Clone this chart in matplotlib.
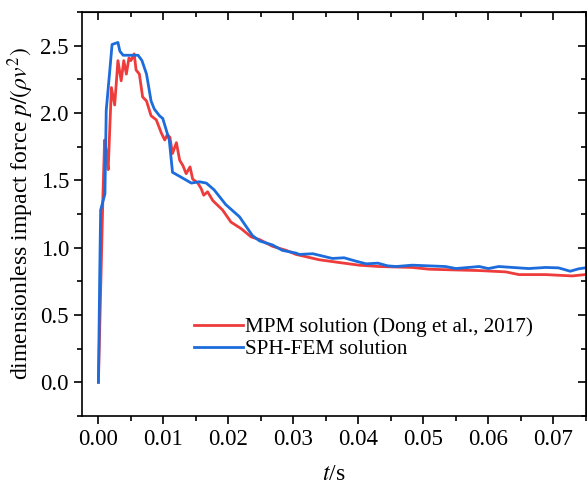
import matplotlib
matplotlib.use("Agg")
import matplotlib.pyplot as plt
from matplotlib.ticker import MultipleLocator

plt.rcParams['font.family'] = ['Liberation Serif', 'DejaVu Serif']
plt.rcParams['mathtext.fontset'] = 'stix'

# MPM solution (Dong et al., 2017)
t_mpm = [0.0, 0.0003, 0.0007, 0.00095, 0.0012, 0.0015, 0.0018, 0.002, 0.0025, 0.003,
         0.0035, 0.0039, 0.0043, 0.0047, 0.005, 0.0055, 0.0058, 0.0063, 0.0068, 0.0074,
         0.0081, 0.0089, 0.0097, 0.0102, 0.0106, 0.011, 0.0114, 0.012, 0.0125, 0.013,
         0.0135, 0.0141, 0.0145, 0.0153, 0.0158, 0.0162, 0.0168, 0.0176, 0.0191, 0.0204,
         0.022, 0.0235, 0.0248, 0.0268, 0.0289, 0.0304, 0.034, 0.037, 0.0401, 0.0432,
         0.0483, 0.0509, 0.0545, 0.0586, 0.0627, 0.0647, 0.0688, 0.0729, 0.0749]
p_mpm = [0.0, 0.6, 1.4, 1.80, 1.72, 1.58, 1.95, 2.19, 2.06, 2.39,
         2.24, 2.39, 2.29, 2.41, 2.39, 2.44, 2.32, 2.29, 2.12, 2.09,
         1.98, 1.95, 1.85, 1.80, 1.84, 1.82, 1.70, 1.78, 1.65, 1.61,
         1.55, 1.60, 1.51, 1.48, 1.44, 1.39, 1.415, 1.35, 1.28, 1.19,
         1.14, 1.08, 1.06, 1.01, 0.98, 0.95, 0.91, 0.89, 0.87, 0.86,
         0.853, 0.84, 0.835, 0.83, 0.82, 0.80, 0.80, 0.79, 0.80]

# SPH-FEM solution
t_sph = [0.0, 0.0002, 0.00034, 0.001, 0.0012, 0.0017, 0.0021, 0.003, 0.0033, 0.0038,
         0.005, 0.0061, 0.0067, 0.0074, 0.0081, 0.0086, 0.0094, 0.0099, 0.0109, 0.0114,
         0.0125, 0.0143, 0.0155, 0.0166, 0.0178, 0.0196, 0.0217, 0.0237, 0.0248, 0.0268,
         0.0283, 0.0304, 0.0309, 0.033, 0.036, 0.0378, 0.0396, 0.0412, 0.043, 0.0445,
         0.0458, 0.0483, 0.0534, 0.055, 0.0586, 0.060, 0.0616, 0.0662, 0.0688, 0.0708,
         0.0726, 0.0739, 0.0749]
p_sph = [0.0, 0.8, 1.28, 1.40, 2.02, 2.29, 2.51, 2.525, 2.46, 2.43,
         2.43, 2.43, 2.39, 2.29, 2.09, 2.03, 1.98, 1.96, 1.80, 1.56,
         1.53, 1.48, 1.49, 1.48, 1.43, 1.32, 1.23, 1.09, 1.05, 1.02,
         0.98, 0.96, 0.95, 0.955, 0.92, 0.925, 0.90, 0.88, 0.885, 0.865,
         0.86, 0.87, 0.86, 0.845, 0.86, 0.845, 0.86, 0.845, 0.853, 0.85,
         0.825, 0.843, 0.85]

fig = plt.figure(figsize=(5.87, 4.87), dpi=100)
ax = fig.add_axes([0.140, 0.146, 0.858, 0.829])

ax.plot(t_mpm, p_mpm, color='#EE3B3B', lw=2.0, label='MPM solution (Dong et al., 2017)')
ax.plot(t_sph, p_sph, color='#1C6CDB', lw=2.0, label='SPH-FEM solution')

ax.set_xlim(-0.0025, 0.075)
ax.set_ylim(-0.25, 2.75)
ax.xaxis.set_minor_locator(MultipleLocator(0.005))
ax.yaxis.set_minor_locator(MultipleLocator(0.25))
ax.set_xticks([0, 0.01, 0.02, 0.03, 0.04, 0.05, 0.06, 0.07])
ax.set_xticklabels(['0.00', '0.01', '0.02', '0.03', '0.04', '0.05', '0.06', '0.07'])
ax.set_yticks([0, 0.5, 1.0, 1.5, 2.0, 2.5])
ax.set_yticklabels(['0.0', '0.5', '1.0', '1.5', '2.0', '2.5'])

ax.tick_params(which='both', direction='out', labelsize=16.5, width=1.2)
ax.tick_params(which='major', length=6)
ax.tick_params(which='minor', length=3.5)
for sp in ax.spines.values():
    sp.set_linewidth(1.2)

# mirror ticks on top/right point inward
ax2 = ax.secondary_xaxis('top')
ax2.xaxis.set_major_locator(MultipleLocator(0.01))
ax2.xaxis.set_minor_locator(MultipleLocator(0.005))
ax2.tick_params(which='both', direction='in', labeltop=False, width=1.2)
ax2.tick_params(which='major', length=6)
ax2.tick_params(which='minor', length=3.5)
ay2 = ax.secondary_yaxis('right')
ay2.yaxis.set_major_locator(MultipleLocator(0.5))
ay2.yaxis.set_minor_locator(MultipleLocator(0.25))
ay2.tick_params(which='both', direction='in', labelright=False, width=1.2)
ay2.tick_params(which='major', length=6)
ay2.tick_params(which='minor', length=3.5)

ax.set_xlabel(r'$t$/s', fontsize=17, labelpad=10)
ax.set_ylabel(r'dimensionless impact force $p/(\rho v^2)$', fontsize=17, labelpad=3)

ax.legend(loc='lower left', bbox_to_anchor=(0.205, 0.12), frameon=False, fontsize=15.2,
          handlelength=2.35, handletextpad=0.05, labelspacing=0.1, borderaxespad=0)

fig.savefig('out.png', dpi=100)
